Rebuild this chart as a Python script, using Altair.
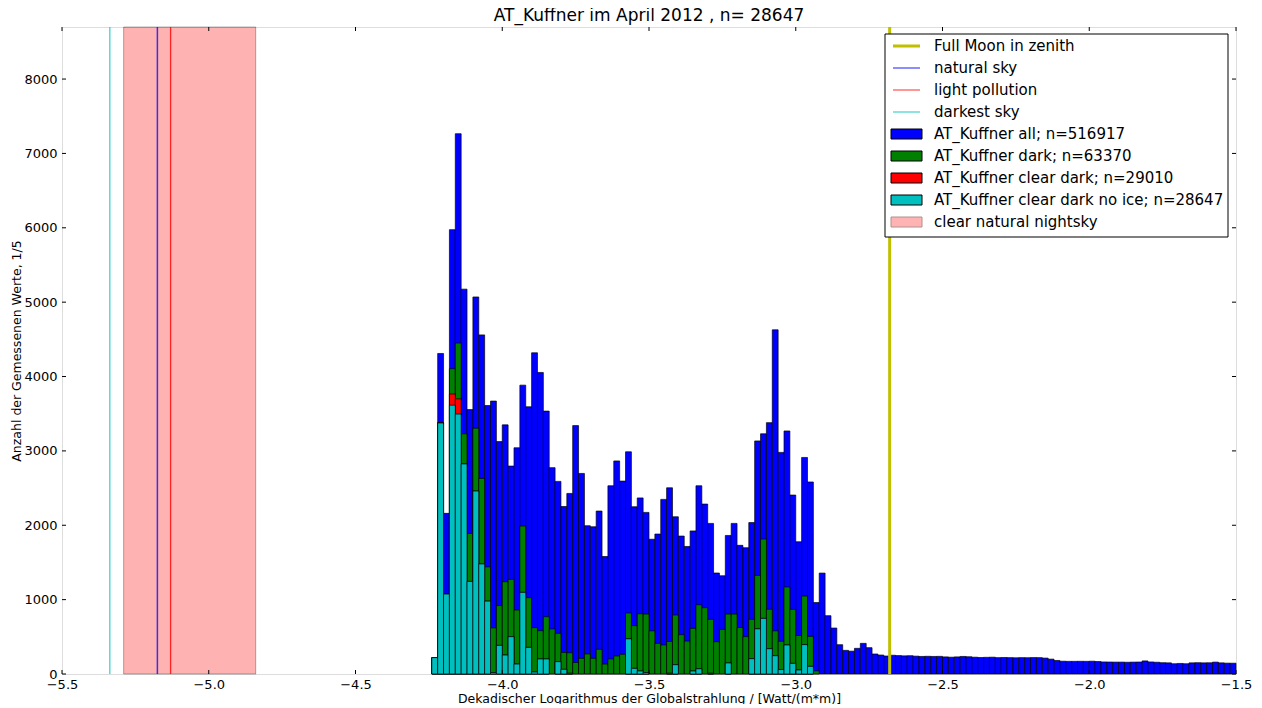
import altair as alt
import pandas as pd

# ---------------- data ----------------
BIN_START = -4.24
BIN_WIDTH = 0.02

all_counts = [
    220, 4310, 2160, 5975, 7265, 5175, 3555, 5070, 4560, 3610,
    3670, 3125, 3350, 2796, 3042, 3884, 3593, 4319, 4055, 3535,
    2775, 2590, 2252, 2428, 3340, 2697, 1994, 1980, 2191, 1580,
    2531, 2865, 2594, 2988, 2249, 2368, 2173, 1812, 1882, 2348,
    2504, 2114, 1855, 1715, 1924, 2531, 2285, 2025, 1358, 1321,
    1863, 2025, 1730, 1698, 2036, 3134, 3230, 3380, 4628, 2980,
    3268, 2406, 1778, 2912, 2582, 961, 1357, 784, 618, 394,
    318, 307, 345, 412, 354, 269, 255, 242, 252, 248,
    244, 246, 240, 236, 238, 236, 237, 230, 226, 230,
    236, 232, 226, 222, 224, 226, 220, 222, 220, 218,
    220, 219, 221, 220, 214, 200, 182, 172, 170, 170,
    171, 170, 172, 168, 162, 161, 160, 160, 158, 160,
    161, 176, 162, 158, 152, 150, 138, 142, 138, 150,
    152, 150, 151, 160, 150, 146, 145,
]

dark_counts = [
    220, 3380, 1080, 4105, 4450, 3230, 1890, 3305, 2630, 1440,
    620, 920, 1241, 1272, 860, 1989, 1026, 623, 582, 770,
    605, 547, 290, 285, 155, 211, 269, 211, 332, 134,
    202, 242, 265, 820, 650, 810, 806, 580, 412, 390,
    438, 793, 528, 443, 614, 930, 891, 735, 434, 600,
    806, 806, 625, 502, 735, 1326, 1814, 871, 580, 440,
    1170, 869, 518, 1048, 506, 42,
]

clear_dark_counts = [
    220, 3380, 1080, 3765, 3700, 2825, 1245, 2460, 1480, 980,
    20, 385, 255, 502, 134, 1098, 358, 27, 202, 202,
    0, 166, 63, 10, 0, 0, 0, 0, 0, 0,
    0, 0, 0, 473, 76, 40, 20, 0, 0, 0,
    10, 125, 0, 0, 40, 70, 0, 10, 0, 0,
    148, 0, 0, 0, 206, 607, 748, 340, 246, 60,
    390, 143, 54, 395, 103, 0,
]

clear_dark_noice_counts = [
    220, 3375, 1075, 3615, 3495, 2825, 1245, 2460, 1480, 980,
    20, 385, 255, 502, 134, 1098, 358, 27, 202, 202,
    0, 166, 63, 10, 0, 0, 0, 0, 0, 0,
    0, 0, 0, 473, 76, 40, 20, 0, 0, 0,
    10, 125, 0, 0, 40, 70, 0, 10, 0, 0,
    148, 0, 0, 0, 206, 607, 748, 340, 246, 60,
    390, 143, 54, 395, 103, 0,
]

series_names = ["all", "dark", "clear dark", "clear dark no ice"]
series_values = [all_counts, dark_counts, clear_dark_counts, clear_dark_noice_counts]
series_colors = ["#0000ff", "#008000", "#ff0000", "#00bfbf"]

x_ticks = [-5.5, -5.0, -4.5, -4.0, -3.5, -3.0, -2.5, -2.0, -1.5]
y_ticks = [0, 1000, 2000, 3000, 4000, 5000, 6000, 7000, 8000]

full_moon_x = -2.68
natural_sky_x = -5.175
light_pollution_x = -5.13
darkest_sky_x = -5.337
nightsky_lo = -5.29
nightsky_hi = -4.84

legend_labels = [
    "Full Moon in zenith",
    "natural sky",
    "light pollution",
    "darkest sky",
    "AT_Kuffner all; n=516917",
    "AT_Kuffner dark; n=63370",
    "AT_Kuffner clear dark; n=29010",
    "AT_Kuffner clear dark no ice; n=28647",
    "clear natural nightsky",
]

title_text = "AT_Kuffner im April 2012 , n= 28647"
x_title = "Dekadischer Logarithmus der Globalstrahlung / [Watt/(m*m)]"
y_title = "Anzahl der Gemessenen Werte, 1/5"

# ---------------- layout ----------------
W, H = 1174, 647
FONT = "DejaVu Sans"

xs = alt.Scale(domain=[-5.5, -1.5], nice=False, zero=False)
ys = alt.Scale(domain=[0, 8700], nice=False, zero=False)

x_axis = alt.Axis(values=x_ticks, format=".1f", grid=False, ticks=False, domain=False,
                  labelFont=FONT, labelFontSize=13, labelColor="black", labelPadding=4,
                  titleFont=FONT, titleFontSize=12.5, titleFontWeight="normal",
                  titleColor="black", titlePadding=1, labelFlush=False)
y_axis = alt.Axis(values=y_ticks, format="d", grid=False, ticks=False, domain=False,
                  labelFont=FONT, labelFontSize=13, labelColor="black", labelPadding=5,
                  titleFont=FONT, titleFontSize=12.5, titleFontWeight="normal",
                  titleColor="black", titlePadding=0)


def X(field):
    return alt.X(field, type="quantitative", scale=xs, axis=x_axis, title=x_title)


def Y(field):
    return alt.Y(field, type="quantitative", scale=ys, axis=y_axis, title=y_title)


layers = []

# shaded span (clear natural nightsky)
span_df = pd.DataFrame({"lo": [nightsky_lo], "hi": [nightsky_hi]})
layers.append(
    alt.Chart(span_df).mark_rect(fill="#ff0000", fillOpacity=0.3, stroke="#000000",
                                 strokeOpacity=0.3, strokeWidth=1)
    .encode(x=X("lo"), x2="hi", y=alt.value(0), y2=alt.value(H))
)

# histogram bars (overlaid, drawn in order)
for name, vals, col in zip(series_names, series_values, series_colors):
    df = pd.DataFrame({"i": list(range(len(vals))), "count": vals})
    df["x0"] = BIN_START + df["i"] * BIN_WIDTH
    df["x1"] = df["x0"] + BIN_WIDTH
    df = df[df["count"] > 0]
    layers.append(
        alt.Chart(df).mark_rect(fill=col, stroke="#000000", strokeWidth=0.8, strokeOpacity=0.85)
        .encode(x=X("x0"), x2="x1", y=Y("count"), y2=alt.datum(0))
    )

# reference lines
line_specs = [
    (natural_sky_x, "#0000ff", 0.75, 1.5),
    (light_pollution_x, "#ff0000", 0.8, 1.3),
    (darkest_sky_x, "#00bfbf", 0.8, 1.2),
    (full_moon_x, "#bfbf00", 1.0, 3),
]
for xv, col, op, sw in line_specs:
    layers.append(
        alt.Chart(pd.DataFrame({"x": [xv]})).mark_rule(color=col, opacity=op, strokeWidth=sw)
        .encode(x=X("x"))
    )

# inner tick marks (matplotlib style, all four sides)
TL = 4
xt = pd.DataFrame({"v": x_ticks})
yt = pd.DataFrame({"v": y_ticks})
layers.append(alt.Chart(xt).mark_rule(color="black", strokeWidth=1)
              .encode(x=X("v"), y=alt.value(H), y2=alt.value(H - TL)))
layers.append(alt.Chart(xt).mark_rule(color="black", strokeWidth=1)
              .encode(x=X("v"), y=alt.value(0), y2=alt.value(TL)))
layers.append(alt.Chart(yt).mark_rule(color="black", strokeWidth=1)
              .encode(y=Y("v"), x=alt.value(0), x2=alt.value(TL)))
layers.append(alt.Chart(yt).mark_rule(color="black", strokeWidth=1)
              .encode(y=Y("v"), x=alt.value(W), x2=alt.value(W - TL)))

# ---------------- legend (drawn by hand, inside the plot) ----------------
LG_X0, LG_X1, LG_Y0, LG_Y1 = 823, 1166, 7, 210
ROW0, ROWH = 19, 22
one = pd.DataFrame({"a": [0]})
layers.append(
    alt.Chart(one).mark_rect(fill="white", stroke="black", strokeWidth=1)
    .encode(x=alt.value(LG_X0), x2=alt.value(LG_X1), y=alt.value(LG_Y0), y2=alt.value(LG_Y1))
)
legend_line_styles = [("#bfbf00", 1.0, 3), ("#0000ff", 0.6, 1.5),
                      ("#ff0000", 0.7, 1.2), ("#00bfbf", 0.6, 1.5)]
for k, (col, op, sw) in enumerate(legend_line_styles):
    cy = ROW0 + ROWH * k
    layers.append(
        alt.Chart(one).mark_rule(color=col, opacity=op, strokeWidth=sw)
        .encode(x=alt.value(831), x2=alt.value(858), y=alt.value(cy))
    )
legend_box_styles = [("#0000ff", "#000000"), ("#008000", "#000000"),
                     ("#ff0000", "#000000"), ("#00bfbf", "#000000"),
                     ("#ffb3b3", "#b09090")]
for k, (fc, sc) in enumerate(legend_box_styles):
    cy = ROW0 + ROWH * (k + 4)
    layers.append(
        alt.Chart(one).mark_rect(fill=fc, stroke=sc, strokeWidth=1)
        .encode(x=alt.value(829), x2=alt.value(860), y=alt.value(cy - 5), y2=alt.value(cy + 5))
    )
lab_df = pd.DataFrame({"label": legend_labels, "idx": list(range(len(legend_labels)))})
layers.append(
    alt.Chart(lab_df).mark_text(align="left", baseline="middle", font=FONT, fontSize=15,
                                color="black")
    .transform_calculate(ly=f"{ROW0} + {ROWH} * datum.idx")
    .encode(x=alt.value(872), y=alt.Y("ly:Q", scale=None, axis=None), text="label:N")
)

chart = (
    alt.layer(*layers)
    .properties(
        width=W,
        height=H,
        title=alt.TitleParams(title_text, font=FONT, fontSize=17, fontWeight="normal",
                              color="black", anchor="middle", offset=1),
        autosize=alt.AutoSizeParams(type="none"),
        padding={"left": 54, "top": 19, "right": 18, "bottom": 30},
    )
    .configure_view(stroke="black", strokeWidth=1)
    .configure(font=FONT, background="white")
)

chart.save("out.html", embed_options={"renderer": "svg", "actions": False})
